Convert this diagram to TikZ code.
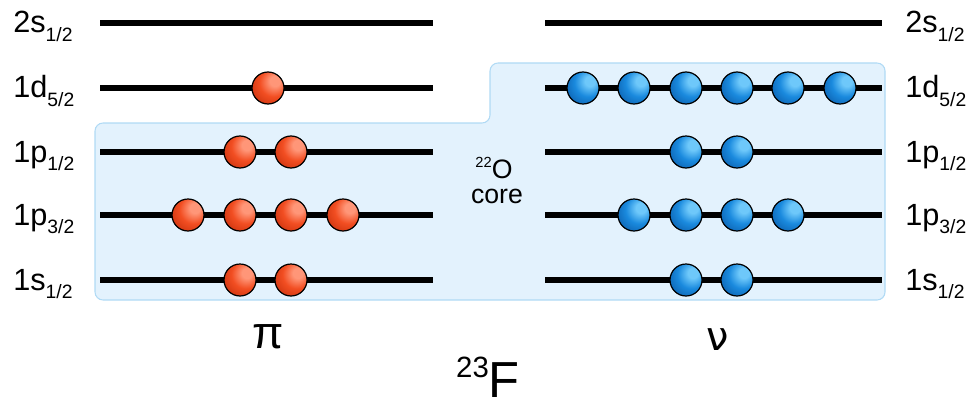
\documentclass[tikz,border=0pt]{standalone}
\usepackage{fontspec}
\setmainfont{Liberation Sans}
\newfontfamily\greekalt{DejaVu Sans}
\definecolor{corefill}{RGB}{227,242,253}
\definecolor{coreline}{RGB}{176,218,245}
\definecolor{rhi}{RGB}{255,150,120}
\definecolor{rmid}{RGB}{242,78,34}
\definecolor{rlow}{RGB}{200,48,12}
\definecolor{bhi}{RGB}{110,200,250}
\definecolor{bmid}{RGB}{26,138,222}
\definecolor{blow}{RGB}{10,92,170}
% balls lit from the upper right
\pgfdeclareradialshading{protonball}{\pgfqpoint{12bp}{12bp}}{%
  color(0bp)=(rhi); color(8bp)=(rhi); color(22bp)=(rmid); color(40bp)=(rlow); color(80bp)=(rlow)}
\pgfdeclareradialshading{neutronball}{\pgfqpoint{12bp}{12bp}}{%
  color(0bp)=(bhi); color(8bp)=(bhi); color(22bp)=(bmid); color(40bp)=(blow); color(80bp)=(blow)}
\newcommand{\lvl}[2]{{\fontsize{23}{23}\selectfont #1}\raisebox{-6.5pt}{\fontsize{14.5}{14.5}\selectfont #2}}
\begin{document}
\begin{tikzpicture}[x=0.75pt,y=-0.75pt,
  level/.style={line width=3.8pt},
  pball/.style={circle,draw=black,line width=0.9pt,shading=protonball,minimum size=24pt,inner sep=0pt},
  nball/.style={circle,draw=black,line width=0.9pt,shading=neutronball,minimum size=24pt,inner sep=0pt},
  lbl/.style={anchor=base west,inner sep=0pt}]
\useasboundingbox (0,0) rectangle (973,403);
% the 22O core region
\draw[fill=corefill,draw=coreline,line width=0.8pt,rounded corners=6pt]
  (95,123) -- (95,300) -- (885,300) -- (885,63) -- (490,63) -- (490,123) -- cycle;
% single-particle levels
\foreach \n/\y in {s2/23,d1/88,p1/152,p3/215,s1/280}{
  \coordinate (L\n a) at (100,\y); \coordinate (L\n b) at (433,\y);
  \coordinate (R\n a) at (545,\y); \coordinate (R\n b) at (882,\y);
  \draw[level] (L\n a) -- (L\n b);
  \draw[level] (R\n a) -- (R\n b);
}
% level labels
\foreach \n/\y/\a/\b in {s2/23/2s/1\slash 2,d1/88/1d/5\slash 2,p1/152/1p/1\slash 2,p3/215/1p/3\slash 2,s1/280/1s/1\slash 2}{
  \node[lbl] (tl\n) at (13,\y+10) {\lvl{\a}{\b}};
  \node[lbl] (tr\n) at (905,\y+10) {\lvl{\a}{\b}};
}
% protons
\node[pball] (p1) at (268,88) {};
\foreach \x [count=\i] in {240,291}{\node[pball] (pa\i) at (\x,152) {};}
\foreach \x [count=\i] in {188,240,291,343}{\node[pball] (pb\i) at (\x,215) {};}
\foreach \x [count=\i] in {240,291}{\node[pball] (pc\i) at (\x,280) {};}
% neutrons
\foreach \x [count=\i] in {583,634,686,737,788,840}{\node[nball] (na\i) at (\x,88) {};}
\foreach \x [count=\i] in {686,737}{\node[nball] (nb\i) at (\x,152) {};}
\foreach \x [count=\i] in {634,686,737,788}{\node[nball] (nc\i) at (\x,215) {};}
\foreach \x [count=\i] in {686,737}{\node[nball] (nd\i) at (\x,280) {};}
% captions
\node[anchor=base,inner sep=0pt] (core) at (494,178)
  {\raisebox{8pt}{\fontsize{11}{11}\selectfont 22}{\fontsize{20}{20}\selectfont O}};
\node[anchor=base,inner sep=0pt] (core2) at (497,203) {\fontsize{20}{20}\selectfont core};
\node[anchor=base,inner sep=0pt] (pi) at (268,348) {\fontsize{34}{34}\selectfont π};
\node[anchor=base,inner sep=0pt] (nu) at (718,350) {\greekalt\fontsize{30}{30}\selectfont ν};
\node[anchor=base,inner sep=0pt] (nuc) at (488,397)
  {\raisebox{15pt}{\fontsize{22}{22}\selectfont 23}{\fontsize{38}{38}\selectfont F}};
\end{tikzpicture}
\end{document}
